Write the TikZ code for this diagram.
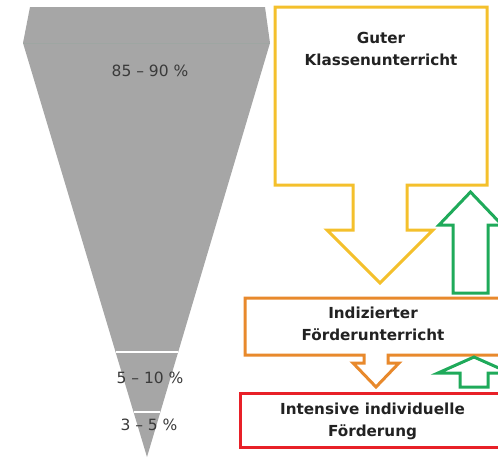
\documentclass[tikz,border=0pt]{standalone}
\usepackage{fontspec}
\setmainfont{DejaVu Sans}
\begin{document}
\begin{tikzpicture}[x=1pt,y=-1pt,
  funnelfill/.style={fill=funnelgray,draw=none},
  sepline/.style={draw=white,line width=2pt},
  boxline/.style={line width=3pt,line join=miter,fill=white},
  pct/.style={font=\fontsize{15.5}{18}\selectfont,text=pcttext,inner sep=0pt},
  lbl/.style={font=\fontsize{15.2}{22}\selectfont\bfseries,text=lbltext,align=center,inner sep=0pt}]
\definecolor{funnelgray}{HTML}{A6A6A6}
\definecolor{bandline}{HTML}{9EA6A2}
\definecolor{pcttext}{HTML}{3A3A3A}
\definecolor{lbltext}{HTML}{222222}
\definecolor{cyellow}{HTML}{F4C02C}
\definecolor{corange}{HTML}{E8892C}
\definecolor{cgreen}{HTML}{1FAA5A}
\definecolor{cred}{HTML}{E82028}
\useasboundingbox (0,0) rectangle (498,459);
\clip (0,0) rectangle (498,459);
% funnel
\coordinate (ftl) at (30,7);
\coordinate (ftr) at (265,7);
\coordinate (fr) at (270,43);
\coordinate (ftip) at (147,457);
\coordinate (fl) at (23,43);
\path[funnelfill] (ftl) -- (ftr) -- (fr) -- (ftip) -- (fl) -- cycle;
\draw[bandline,line width=0.8pt] (fl) -- (fr);
\coordinate (s1l) at (115.5,352);
\coordinate (s1r) at (178.2,352);
\coordinate (s2l) at (133.5,412);
\coordinate (s2r) at (160.4,412);
\draw[sepline] (s1l) -- (s1r);
\draw[sepline] (s2l) -- (s2r);
\node[pct] (p1) at (150,71) {85 – 90 \%};
\node[pct] (p2) at (150,378) {5 – 10 \%};
\node[pct] (p3) at (149,425) {3 – 5 \%};
% yellow box with down arrow
\draw[boxline,draw=cyellow] (275,7) -- (487,7) -- (487,185) -- (407,185) -- (407,230) -- (433,230) -- (380,283) -- (327,230) -- (353,230) -- (353,185) -- (275,185) -- cycle;
\node[lbl] (guter) at (381,49) {Guter\\Klassenunterricht};
% big green up arrow
\draw[boxline,draw=cgreen] (453,293) -- (453,225) -- (439,225) -- (470.5,192) -- (502,225) -- (488,225) -- (488,293) -- cycle;
% orange box with down arrow
\draw[boxline,draw=corange] (245,298) -- (510,298) -- (510,355) -- (388,355) -- (388,363) -- (399,363) -- (376,387) -- (353,363) -- (364,363) -- (364,355) -- (245,355) -- cycle;
\node[lbl] (indiz) at (373,324) {Indizierter\\Förderunterricht};
% small green up arrow
\draw[boxline,draw=cgreen] (460,387) -- (460,373) -- (438,373) -- (474,357) -- (510,373) -- (488,373) -- (488,387) -- cycle;
% red box
\draw[boxline,draw=cred] (240,393) -- (510,393) -- (510,447) -- (240,447) -- cycle;
\node[lbl] (intens) at (372.5,421.5) {Intensive individuelle\\Förderung};
\end{tikzpicture}
\end{document}
